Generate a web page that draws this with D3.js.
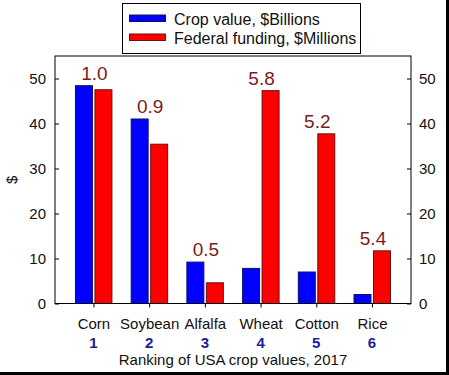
<!DOCTYPE html>
<html lang="en">
<head>
<meta charset="utf-8">
<title>USA crop values and federal funding</title>
<script src="https://d3js.org/d3.v7.min.js"></script>
<style>
body { margin: 0; background: #fff; }
svg text { font-family: Arial, "Liberation Sans", sans-serif; }
</style>
</head>
<body>
<div id="chart"></div>
<script>
// data
var crops = ["Corn", "Soybean", "Alfalfa", "Wheat", "Cotton", "Rice"];
var ranks = [1, 2, 3, 4, 5, 6];
var cropValue = [48.4, 41.0, 9.2, 7.8, 7.0, 2.0];        // $Billions
var fedFunding = [47.5, 35.4, 4.6, 47.3, 37.7, 11.7];     // $Millions
var ratioLabels = ["1.0", "0.9", "0.5", "5.8", "5.2", "5.4"];
var yTicks = [0, 10, 20, 30, 40, 50];
var seriesNames = ["Crop value, $Billions", "Federal funding, $Millions"];

var W = 449, H = 375;
var pLeft = 55, pRight = 411, pTop = 56, pBottom = 303.5;

var svg = d3.select("#chart")
  .append("svg")
  .attr("width", W)
  .attr("height", H);

var x = d3.scaleLinear().domain([0.31, 6.7]).range([pLeft, pRight]);
var y = d3.scaleLinear().domain([0, 55]).range([pBottom, pTop]);

// bars (blue left, red right of each tick)
var bw = x(0.305) - x(0);
svg.selectAll(".blue")
  .data(cropValue)
  .enter().append("rect")
    .attr("x", function(d, i) { return x(ranks[i]) - bw - 1; })
    .attr("y", function(d) { return y(d); })
    .attr("width", bw)
    .attr("height", function(d) { return y(0) - y(d); })
    .attr("fill", "#0000ff")
    .attr("stroke", "#10106a")
    .attr("stroke-width", 1);

svg.selectAll(".red")
  .data(fedFunding)
  .enter().append("rect")
    .attr("x", function(d, i) { return x(ranks[i]) + 1.5; })
    .attr("y", function(d) { return y(d); })
    .attr("width", bw)
    .attr("height", function(d) { return y(0) - y(d); })
    .attr("fill", "#ff0000")
    .attr("stroke", "#6a1010")
    .attr("stroke-width", 1);

// ratio labels above each pair
svg.selectAll(".ratio")
  .data(ratioLabels)
  .enter().append("text")
    .attr("x", function(d, i) { return x(ranks[i]) + 1; })
    .attr("y", function(d, i) { return y(Math.max(cropValue[i], fedFunding[i])) - 6; })
    .attr("text-anchor", "middle")
    .style("font-size", "19px")
    .style("fill", "#7a1c1c")
    .text(function(d) { return d; });

// plot frame
svg.append("rect")
  .attr("x", pLeft).attr("y", pTop)
  .attr("width", pRight - pLeft).attr("height", pBottom - pTop)
  .attr("fill", "none").attr("stroke", "#000").attr("stroke-width", 1);

// left and right axes, ticks pointing inward
var gl = svg.append("g")
  .attr("transform", "translate(" + pLeft + ",0)")
  .call(d3.axisLeft(y).tickValues(yTicks).tickSizeInner(-4).tickSizeOuter(0).tickPadding(9));
var gr = svg.append("g")
  .attr("transform", "translate(" + pRight + ",0)")
  .call(d3.axisRight(y).tickValues(yTicks).tickSizeInner(-4).tickSizeOuter(0).tickPadding(8));
[gl, gr].forEach(function(g) {
  g.select(".domain").remove();
  g.selectAll("text").style("font-size", "15px").style("fill", "#111")
    .style("font-family", "Arial, 'Liberation Sans', sans-serif");
});

// bottom axis with category names
var gb = svg.append("g")
  .attr("transform", "translate(0," + pBottom + ")")
  .call(d3.axisBottom(x).tickValues(ranks).tickSizeInner(4).tickSizeOuter(0)
    .tickFormat(function(d, i) { return crops[i]; }).tickPadding(11));
gb.select(".domain").remove();
gb.selectAll("text").style("font-size", "15px").style("fill", "#111")
  .style("font-family", "Arial, 'Liberation Sans', sans-serif");

// rank numbers
svg.selectAll(".rank")
  .data(ranks)
  .enter().append("text")
    .attr("x", function(d) { return x(d); })
    .attr("y", 348)
    .attr("text-anchor", "middle")
    .style("font-size", "15px")
    .style("font-weight", "bold")
    .style("fill", "#1c1ca0")
    .text(function(d) { return d; });

// axis titles
svg.append("text")
  .attr("x", (pLeft + pRight) / 2)
  .attr("y", 365)
  .attr("text-anchor", "middle")
  .style("font-size", "15px")
  .style("fill", "#111")
  .text("Ranking of USA crop values, 2017");

svg.append("text")
  .attr("transform", "translate(17," + ((pTop + pBottom) / 2) + ") rotate(-90)")
  .attr("text-anchor", "middle")
  .style("font-size", "15px")
  .style("fill", "#111")
  .text("$");

// legend
var lg = svg.append("g");
lg.append("rect")
  .attr("x", 122.5).attr("y", 3.5).attr("width", 238).attr("height", 50)
  .attr("fill", "#fff").attr("stroke", "#000").attr("stroke-width", 1);
var legColors = [["#0000ff", "#10106a"], ["#ff0000", "#6a1010"]];
seriesNames.forEach(function(name, i) {
  lg.append("rect")
    .attr("x", 129.5).attr("y", 15 + i * 19)
    .attr("width", 36).attr("height", 6.5)
    .attr("fill", legColors[i][0]).attr("stroke", legColors[i][1]);
  lg.append("text")
    .attr("x", 174).attr("y", 24.5 + i * 19)
    .style("font-size", "16px")
    .style("fill", "#111")
    .text(name);
});

// image frame on right and bottom
svg.append("rect").attr("x", 446).attr("y", 0).attr("width", 3).attr("height", H).attr("fill", "#000");
svg.append("rect").attr("x", 0).attr("y", 372).attr("width", W).attr("height", 3).attr("fill", "#000");
</script>
</body>
</html>
